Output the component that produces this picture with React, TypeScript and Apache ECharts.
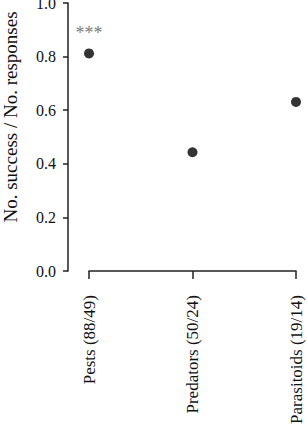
import React, { useEffect, useRef } from "react";
import * as echarts from "echarts";

const categories = ["Pests (88/49)", "Predators (50/24)", "Parasitoids (19/14)"];
const successRatio = [0.812, 0.443, 0.631];
const significance = ["***", "", ""];
const yTicks = [0, 0.2, 0.4, 0.6, 0.8, 1.0];

const FONT = "'Liberation Serif', 'Times New Roman', serif";

export default function App() {
  const ref = useRef<HTMLDivElement>(null);
  useEffect(() => {
    if (!ref.current) return;
    const chart = echarts.init(ref.current, null, { renderer: "svg" });
    chart.setOption({
      animation: false,
      backgroundColor: "#ffffff",
      grid: {
        left: 89,
        right: 11,
        top: 3,
        bottom: 153,
        containLabel: false,
        outerBoundsMode: "none",
      },
      xAxis: {
        type: "category",
        data: categories,
        boundaryGap: false,
        offset: 10,
        axisLine: { show: true, lineStyle: { color: "#222", width: 1.5 } },
        axisTick: { show: true, length: 8, lineStyle: { color: "#222", width: 1.5 } },
        axisLabel: {
          rotate: 90,
          margin: 14,
          interval: 0,
          color: "#111",
          fontFamily: FONT,
          fontSize: 17,
        },
        splitLine: { show: false },
      },
      yAxis: {
        type: "value",
        min: 0,
        max: 1,
        interval: 0.2,
        offset: 21,
        name: "No. success / No. responses",
        nameLocation: "middle",
        nameGap: 48,
        nameRotate: 90,
        nameTextStyle: {
          fontFamily: FONT,
          fontSize: 19,
          color: "#111",
          padding: [0, 0, 0, 40],
        },
        axisLine: { show: true, lineStyle: { color: "#222", width: 1.5 } },
        axisTick: { show: true, length: 5, lineStyle: { color: "#222", width: 1.5 } },
        axisLabel: {
          margin: 12,
          color: "#111",
          fontFamily: FONT,
          fontSize: 16,
          formatter: (v: number) => (yTicks.includes(Math.round(v * 10) / 10) ? v.toFixed(1) : ""),
        },
        splitLine: { show: false },
      },
      series: [
        {
          type: "scatter",
          symbol: "circle",
          symbolSize: 10,
          itemStyle: { color: "#000" },
          data: successRatio.map((v, i) => ({
            value: v,
            label: {
              show: significance[i] !== "",
              formatter: significance[i],
              position: "top",
              distance: 6,
              color: "#555",
              fontFamily: FONT,
              fontSize: 18,
            },
          })),
        },
      ],
    });
    return () => chart.dispose();
  }, []);
  return (
    <div
      ref={ref}
      style={{ position: "fixed", left: 0, top: 0, width: 307, height: 424, background: "#fff" }}
    />
  );
}
